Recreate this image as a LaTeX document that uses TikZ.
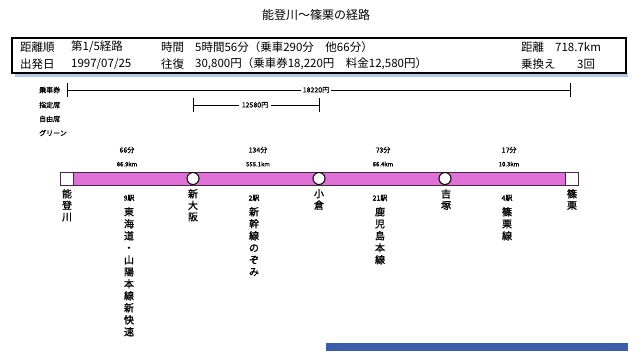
\documentclass[tikz,border=0pt]{standalone}
\usepackage{fontspec}
\setmainfont{Noto Sans CJK JP}
\newfontfamily\heavycjk[FakeBold=1.2]{Noto Sans CJK JP}
\definecolor{barfill}{RGB}{222,112,214}
\definecolor{barline}{RGB}{70,40,70}
\definecolor{shadowc}{RGB}{180,200,232}
\definecolor{bluebar}{RGB}{60,92,172}
\tikzset{
  title/.style={font=\fontsize{12}{12}\selectfont, inner sep=0},
  boxtxt/.style={anchor=west, font=\fontsize{11.5}{12}\selectfont, inner sep=0},
  small/.style={font=\heavycjk\fontsize{7}{8}\selectfont, inner sep=0},
  tiny/.style={font=\heavycjk\fontsize{6}{7}\selectfont, inner sep=0},
  lefttxt/.style={anchor=west, font=\heavycjk\fontsize{7}{8}\selectfont, inner sep=0},
  vstation/.style={anchor=north, align=center, font=\heavycjk\fontsize{10}{11.5}\selectfont, inner sep=0},
  vline/.style={anchor=north, align=center, font=\heavycjk\fontsize{10}{12}\selectfont, inner sep=0},
  fareline/.style={line width=0.8pt},
  stop/.style={circle, draw=black, line width=1pt, fill=white, minimum size=12pt, inner sep=0},
  endsq/.style={draw=barline, line width=0.8pt, fill=white, minimum width=13pt, minimum height=13pt, inner sep=0},
}
\begin{document}
\begin{tikzpicture}[x=1pt,y=-1pt]
\useasboundingbox (0,0) rectangle (634,351);
% title
\node[title] (title) at (316,15) {能登川～篠栗の経路};
% summary box
\fill[shadowc] (15,73) rectangle (628,76.5);
\draw[line width=1.2pt, fill=white] (12,38) rectangle (626,73);
\node[boxtxt] (r1a) at (20,47) {距離順};
\node[boxtxt] (r1b) at (71,47) {第1/5経路};
\node[boxtxt] (r1c) at (161,47) {時間};
\node[boxtxt] (r1d) at (195,47) {5時間56分（乗車290分　他66分）};
\node[boxtxt] (r1e) at (521,47) {距離};
\node[boxtxt] (r1f) at (555,47) {718.7km};
\node[boxtxt] (r2a) at (20,64) {出発日};
\node[boxtxt] (r2b) at (71,64) {1997/07/25};
\node[boxtxt] (r2c) at (161,64) {往復};
\node[boxtxt] (r2d) at (195,64) {30,800円（乗車券18,220円　料金12,580円）};
\node[boxtxt] (r2e) at (521,64) {乗換え};
\node[boxtxt] (r2f) at (577,64) {3回};
% left legend
\node[lefttxt] (lg1) at (39,90) {乗車券};
\node[lefttxt] (lg2) at (39,105) {指定席};
\node[lefttxt] (lg3) at (39,119) {自由席};
\node[lefttxt] (lg4) at (39,133) {グリーン};
% fare lines
\coordinate (f1s) at (67,90);
\coordinate (f1e) at (570,90);
\node[small, fill=white, inner xsep=2pt] (f1l) at (316,90) {18220円};
\draw[fareline] (f1s) -- (f1l.west);
\draw[fareline] (f1l.east) -- (f1e);
\draw[fareline] ([yshift=-7]f1s) -- ([yshift=7]f1s);
\draw[fareline] ([yshift=-7]f1e) -- ([yshift=7]f1e);
\coordinate (f2s) at (193,105);
\coordinate (f2e) at (319,105);
\node[small, fill=white, inner xsep=3pt] (f2l) at (255,105) {12580円};
\draw[fareline] (f2s) -- (f2l.west);
\draw[fareline] (f2l.east) -- (f2e);
\draw[fareline] ([yshift=-7]f2s) -- ([yshift=7]f2s);
\draw[fareline] ([yshift=-7]f2e) -- ([yshift=7]f2e);
% segment labels
\node[small] (t1) at (127,150) {66分};
\node[tiny] (d1) at (127,164) {86.9km};
\node[small] (t2) at (258,150) {134分};
\node[tiny] (d2) at (258,164) {555.1km};
\node[small] (t3) at (383,150) {73分};
\node[tiny] (d3) at (383,164) {66.4km};
\node[small] (t4) at (509,150) {17分};
\node[tiny] (d4) at (509,164) {10.3km};
% route bar
\draw[draw=barline, line width=0.8pt, fill=barfill] (60,172) rectangle (578,185);
\node[endsq] (s0) at (66.5,178.5) {};
\node[stop] (s1) at (193,178.5) {};
\node[stop] (s2) at (319,178.5) {};
\node[stop] (s3) at (445,178.5) {};
\node[endsq] (s4) at (571.5,178.5) {};
% station names
\node[vstation] (n0) at (67,189) {能\\登\\川};
\node[vstation] (n1) at (193,189) {新\\大\\阪};
\node[vstation] (n2) at (319,189) {小\\倉};
\node[vstation] (n3) at (446,189) {吉\\塚};
\node[vstation] (n4) at (572,189) {篠\\栗};
% line names
\node[small] (c1) at (129,198) {9駅};
\node[vline] (l1) at (129,207) {東\\海\\道\\・\\山\\陽\\本\\線\\新\\快\\速};
\node[small] (c2) at (254,198) {2駅};
\node[vline] (l2) at (254,207) {新\\幹\\線\\の\\ぞ\\み};
\node[small] (c3) at (380,198) {21駅};
\node[vline] (l3) at (380,207) {鹿\\児\\島\\本\\線};
\node[small] (c4) at (507,198) {4駅};
\node[vline] (l4) at (507,207) {篠\\栗\\線};
% bottom blue strip
\fill[bluebar] (326,343) rectangle (628,351);
\end{tikzpicture}
\end{document}
